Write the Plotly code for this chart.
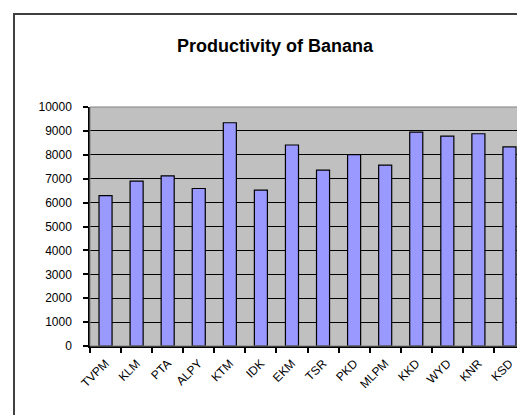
import plotly.graph_objects as go

districts = ["TVPM", "KLM", "PTA", "ALPY", "KTM", "IDK", "EKM", "TSR", "PKD",
             "MLPM", "KKD", "WYD", "KNR", "KSD"]
productivity = [6290, 6900, 7120, 6590, 9340, 6520, 8410, 7360, 8010,
                7570, 8950, 8780, 8880, 8330]
y_ticks = [0, 1000, 2000, 3000, 4000, 5000, 6000, 7000, 8000, 9000, 10000]

W, H = 525, 415
L, R, T, B = 82, 8, 99, 77
pw, ph = W - L - R, H - T - B

def px_x(x):
    return (x - L) / pw

def px_y(y):
    return (H - B - y) / ph

fig = go.Figure(go.Bar(
    x=districts, y=productivity,
    marker=dict(color="#9999FF", line=dict(color="black", width=1.2)),
    width=0.42,
))

fig.update_layout(
    width=W, height=H,
    margin=dict(l=L, r=R, t=T, b=B),
    paper_bgcolor="white",
    plot_bgcolor="#C0C0C0",
    font=dict(family="Liberation Sans, Arial, sans-serif", size=12, color="black"),
    title=dict(text="<b>Productivity of Banana</b>", x=267 / W, xanchor="center",
               xref="container", y=1 - 38 / H, yanchor="middle",
               font=dict(size=18, color="black")),
    showlegend=False,
    bargap=0.58,
    shapes=[
        dict(type="rect", xref="paper", yref="paper",
             x0=px_x(6), x1=px_x(560), y0=px_y(412), y1=px_y(6),
             line=dict(color="#404040", width=2), layer="below"),
        dict(type="rect", xref="paper", yref="paper",
             x0=0, x1=1, y0=0, y1=1,
             line=dict(color="#808080", width=1), layer="above"),
    ],
)

fig.update_xaxes(
    type="category", tickangle=-45, tickson="boundaries",
    ticks="outside", ticklen=5, tickcolor="black", tickwidth=1.5,
    showline=True, linecolor="black", linewidth=1.5,
    showgrid=False, tickfont=dict(size=12), ticklabelstandoff=4,
)
fig.update_yaxes(
    range=[0, 10000], tickvals=y_ticks, ticktext=[str(v) for v in y_ticks],
    ticks="outside", ticklen=5, tickcolor="black", tickwidth=1.5,
    showline=True, linecolor="black", linewidth=1.5,
    showgrid=True, gridcolor="black", gridwidth=1.3,
    zeroline=False, ticklabelstandoff=9, tickfont=dict(size=12),
)

fig.write_html("out.html")
